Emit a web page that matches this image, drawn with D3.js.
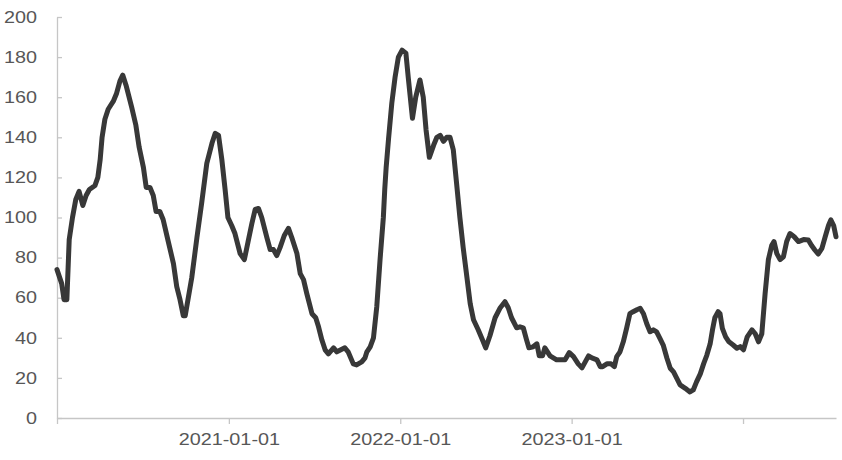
<!DOCTYPE html>
<html>
<head>
<meta charset="utf-8">
<script src="https://cdn.jsdelivr.net/npm/d3@7"></script>
<style>
  html, body { margin: 0; padding: 0; background: #fff; }
  svg { display: block; }
</style>
</head>
<body>
<svg id="chart" width="842" height="460"></svg>
<script>
// ---- data ----
const dates = [
  "2020-01-01","2020-01-11","2020-01-16","2020-01-22","2020-01-27","2020-02-03","2020-02-10","2020-02-17","2020-02-25","2020-03-03",
  "2020-03-10","2020-03-22","2020-03-28","2020-04-02","2020-04-06","2020-04-12","2020-04-19","2020-04-30","2020-05-07","2020-05-14",
  "2020-05-20","2020-05-27","2020-06-08","2020-06-17","2020-06-24","2020-07-03","2020-07-09","2020-07-17","2020-07-24","2020-07-30",
  "2020-08-07","2020-08-14","2020-08-25","2020-09-05","2020-09-12","2020-09-19","2020-09-26","2020-09-30","2020-10-14","2020-10-25",
  "2020-11-04","2020-11-15","2020-11-26","2020-12-03","2020-12-10","2020-12-17","2020-12-24","2020-12-30","2021-01-07","2021-01-14",
  "2021-01-25","2021-02-03","2021-02-11","2021-02-19","2021-02-26","2021-03-05","2021-03-12","2021-03-23","2021-03-30","2021-04-06",
  "2021-04-13","2021-04-20","2021-04-29","2021-05-08","2021-05-15","2021-05-26","2021-06-02","2021-06-09","2021-06-16","2021-06-27",
  "2021-07-05","2021-07-11","2021-07-18","2021-07-25","2021-08-01","2021-08-12","2021-08-19","2021-09-05","2021-09-12","2021-09-23",
  "2021-09-30","2021-10-11","2021-10-18","2021-10-22","2021-10-29","2021-11-05","2021-11-12","2021-11-19","2021-11-26","2021-11-29",
  "2021-12-02","2021-12-07","2021-12-14","2021-12-21","2021-12-28","2022-01-05","2022-01-13","2022-01-18","2022-01-27","2022-02-03",
  "2022-02-12","2022-02-19","2022-02-25","2022-03-04","2022-03-13","2022-03-20","2022-03-27","2022-04-03","2022-04-10","2022-04-17",
  "2022-04-24","2022-05-01","2022-05-08","2022-05-15","2022-05-22","2022-05-30","2022-06-06","2022-06-16","2022-06-25","2022-07-02",
  "2022-07-11","2022-07-22","2022-08-02","2022-08-12","2022-08-19","2022-08-26","2022-09-06","2022-09-13","2022-09-20","2022-09-27",
  "2022-10-02","2022-10-11","2022-10-19","2022-10-24","2022-10-31","2022-11-05","2022-11-16","2022-11-23","2022-11-30","2022-12-11",
  "2022-12-18","2022-12-27","2023-01-05","2023-01-15","2023-01-23","2023-01-30","2023-02-06","2023-02-13","2023-02-24","2023-03-03",
  "2023-03-08","2023-03-17","2023-03-26","2023-04-02","2023-04-07","2023-04-14","2023-04-21","2023-04-28","2023-05-05","2023-05-12",
  "2023-05-20","2023-05-27","2023-06-03","2023-06-10","2023-06-17","2023-06-24","2023-07-01","2023-07-08","2023-07-15","2023-07-23",
  "2023-07-30","2023-08-06","2023-08-13","2023-08-20","2023-08-31","2023-09-10","2023-09-17","2023-09-24","2023-10-02","2023-10-09",
  "2023-10-16","2023-10-23","2023-10-28","2023-11-02","2023-11-09","2023-11-13","2023-11-18","2023-11-25","2023-12-02","2023-12-11",
  "2023-12-19","2023-12-26","2024-01-02","2024-01-10","2024-01-20","2024-01-27","2024-02-03","2024-02-10","2024-02-17","2024-02-24",
  "2024-03-02","2024-03-07","2024-03-13","2024-03-20","2024-03-27","2024-04-03","2024-04-10","2024-04-19","2024-04-28","2024-05-09",
  "2024-05-19","2024-05-26","2024-06-02","2024-06-09","2024-06-17","2024-06-24","2024-07-01","2024-07-06","2024-07-12","2024-07-17"
];
const values = [
  74, 67, 59, 59, 89, 100, 109, 113, 106, 111,
  114, 116, 120, 129, 140, 149, 154, 158, 162, 168,
  171, 166, 155, 146, 135, 125, 115, 115, 111, 103,
  103, 99, 88, 77, 65.5, 59, 51, 51, 70, 90,
  107, 127, 137, 142, 141, 129, 114, 100, 96, 92,
  82, 79, 88, 97, 104, 104.5, 100, 90, 84, 84,
  81, 85, 91, 94.6, 90, 82, 72, 69, 62, 52,
  50, 45.5, 39, 34, 32, 35, 33, 35, 33, 27,
  26.5, 28, 30, 33, 35.5, 40, 55.5, 79, 100, 114,
  125, 139, 157, 170, 180, 183.5, 182, 170, 149.5, 160,
  168.6, 160, 143.6, 130, 136, 140, 141, 138, 140, 140,
  133.7, 117, 100, 85, 72, 57, 49, 44, 39, 35,
  41, 50, 55, 58, 55, 50, 45, 45.5, 45, 39,
  35, 35.5, 37, 31, 31, 35, 31, 30, 29, 29,
  29, 32.6, 30.6, 27, 25, 28, 31, 30, 29, 25.6,
  25.6, 27, 27, 25.6, 30.6, 33, 38, 44.7, 52, 53,
  54, 54.7, 52, 47, 43, 44, 43, 39.7, 36.4, 29.8,
  24.8, 23, 19.8, 16.5, 14.8, 13, 14, 18, 22, 27,
  31.4, 37, 44, 50, 53, 52, 44.7, 40.5, 38, 36.4,
  34.8, 35.6, 34, 40.5, 44, 42, 38, 42, 62, 79,
  86, 88, 82, 79, 80.4, 88, 92, 90.4, 88, 89,
  88.8, 86, 83.8, 81.8, 84.6, 90.4, 96, 98.8, 96, 90.4
];
const yTicks = [0, 20, 40, 60, 80, 100, 120, 140, 160, 180, 200];
const xTickDates = ["2020-01-01", "2021-01-01", "2022-01-01", "2023-01-01", "2024-01-01"];
const xTickLabels = ["", "2021-01-01", "2022-01-01", "2023-01-01", ""];

// ---- drawing ----
const parse = d3.timeParse("%Y-%m-%d");
const data = dates.map((d, i) => ({ date: parse(d), value: values[i] }));

const margin = { left: 57, right: 6, top: 17, bottom: 42 };
const W = 842, H = 460;
const svg = d3.select("#chart");

const x = d3.scaleTime()
  .domain([parse("2020-01-01"), d3.max(data, d => d.date)])
  .range([margin.left, W - margin.right]);
const y = d3.scaleLinear()
  .domain([0, 200])
  .range([H - margin.bottom, margin.top]);

const axisColor = "#c6c6c6";
const textColor = "#575757";
const stretch = 1.2;

// y axis
const yAxis = svg.append("g")
  .attr("transform", `translate(${margin.left},0)`)
  .call(d3.axisLeft(y).tickValues(yTicks).tickSize(-5).tickPadding(20).tickSizeOuter(0));
yAxis.select(".domain").attr("stroke", axisColor).attr("stroke-width", 1.3);
yAxis.selectAll(".tick line").attr("stroke", axisColor).attr("stroke-width", 1.3);
yAxis.selectAll(".tick text")
  .attr("fill", textColor)
  .style("font-family", "'Liberation Sans', Arial, sans-serif")
  .style("font-size", "16.5px")
  .attr("x", -20 / stretch)
  .attr("transform", `scale(${stretch},1)`);

// x axis
const xAxis = svg.append("g")
  .attr("transform", `translate(0,${H - margin.bottom})`)
  .call(d3.axisBottom(x)
    .tickValues(xTickDates.map(parse))
    .tickFormat((d, i) => xTickLabels[i])
    .tickSize(6).tickPadding(9).tickSizeOuter(0));
xAxis.select(".domain").attr("stroke", axisColor).attr("stroke-width", 1.3);
xAxis.selectAll(".tick line").attr("stroke", axisColor).attr("stroke-width", 1.3);
xAxis.selectAll(".tick text")
  .attr("fill", textColor)
  .style("font-family", "'Liberation Sans', Arial, sans-serif")
  .style("font-size", "16.5px")
  .attr("transform", `scale(${stretch},1)`);

// line
const line = d3.line()
  .x(d => x(d.date))
  .y(d => y(d.value));

svg.append("path")
  .datum(data)
  .attr("fill", "none")
  .attr("stroke", "#383838")
  .attr("stroke-width", 5)
  .attr("stroke-linejoin", "round")
  .attr("stroke-linecap", "round")
  .attr("d", line);
</script>
</body>
</html>
